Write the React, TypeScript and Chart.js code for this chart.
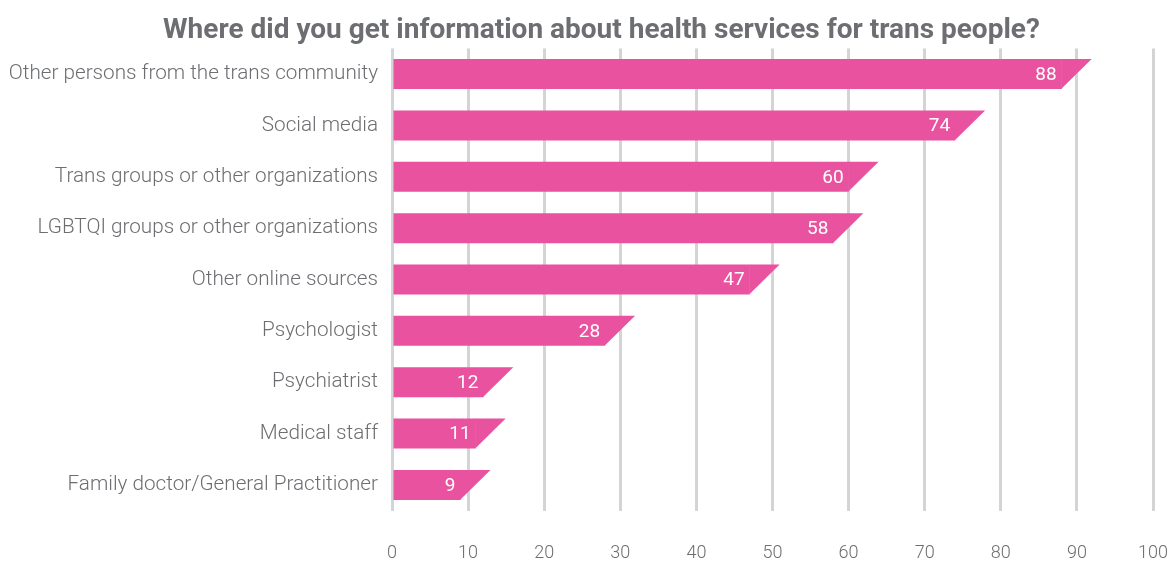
import React, { useEffect, useRef } from 'react';
import { Chart, registerables } from 'chart.js';

Chart.register(...registerables);

const chartTitle = 'Where did you get information about health services for trans people?';

const categories = [
  'Other persons from the trans community',
  'Social media',
  'Trans groups or other organizations',
  'LGBTQI groups or other organizations',
  'Other online sources',
  'Psychologist',
  'Psychiatrist',
  'Medical staff',
  'Family doctor/General Practitioner',
];

const values = [88, 74, 60, 58, 47, 28, 12, 11, 9];

const xMin = 0;
const xMax = 100;
const xStep = 10;

const BAR_COLOR = '#E9529F';
const TEXT_COLOR = '#6d6e71';
const GRID_COLOR = '#d3d4d5';
const FONT = 'Roboto, "DejaVu Sans", sans-serif';

const slantPlugin = {
  id: 'slantBars',
  afterDatasetsDraw(chart: any) {
    const ctx = chart.ctx as CanvasRenderingContext2D;
    const meta = chart.getDatasetMeta(0);
    ctx.save();
    meta.data.forEach((el: any, i: number) => {
      const { x, y, height } = el.getProps(['x', 'y', 'height'], true);
      const top = y - height / 2;
      const bot = y + height / 2;
      ctx.fillStyle = BAR_COLOR;
      ctx.beginPath();
      ctx.moveTo(x - 0.5, top);
      ctx.lineTo(x + height, top);
      ctx.lineTo(x - 0.5, bot);
      ctx.closePath();
      ctx.fill();
      ctx.fillStyle = '#ffffff';
      ctx.font = `400 19px ${FONT}`;
      ctx.textAlign = 'right';
      ctx.textBaseline = 'middle';
      ctx.fillText(String(values[i]), x - 5, y + 1);
    });
    ctx.restore();
  },
  afterDraw(chart: any) {
    const ctx = chart.ctx as CanvasRenderingContext2D;
    ctx.save();
    ctx.fillStyle = TEXT_COLOR;
    ctx.font = `bold 28px ${FONT}`;
    ctx.textAlign = 'center';
    ctx.textBaseline = 'alphabetic';
    ctx.fillText(chartTitle, chart.width / 2 + 15.5, 37.5);
    ctx.restore();
  },
};

export default function App() {
  const canvasRef = useRef<HTMLCanvasElement | null>(null);

  useEffect(() => {
    document.body.style.margin = '0';
    const canvas = canvasRef.current;
    if (!canvas) return;
    const chart = new Chart(canvas, {
      type: 'bar',
      data: {
        labels: categories,
        datasets: [
          {
            data: values,
            backgroundColor: BAR_COLOR,
            borderWidth: 0,
            barPercentage: 0.584,
            categoryPercentage: 1,
          },
        ],
      },
      options: {
        indexAxis: 'y',
        responsive: true,
        maintainAspectRatio: false,
        animation: false,
        layout: { padding: { left: 0, right: 19, top: 48.4, bottom: 0 } },
        plugins: {
          legend: { display: false },
          tooltip: { enabled: false },
          title: { display: false },
        },
        scales: {
          x: {
            min: xMin,
            max: xMax,
            grid: { color: GRID_COLOR, lineWidth: 3, drawTicks: false },
            border: { display: false },
            ticks: {
              stepSize: xStep,
              color: TEXT_COLOR,
              font: { family: FONT, size: 18, weight: '300', lineHeight: 1.2 },
              padding: 32,
            },
            afterFit(scale: any) {
              scale.height = 50.4;
              scale.paddingRight = 0;
              scale.paddingLeft = 0;
            },
          },
          y: {
            grid: { display: false, drawTicks: false },
            border: { display: false },
            ticks: {
              color: TEXT_COLOR,
              font: { family: FONT, size: 20.7, weight: '300' },
              padding: 14,
            },
            afterFit(scale: any) {
              scale.width = 392;
            },
          },
        },
      },
      plugins: [slantPlugin],
    });
    return () => chart.destroy();
  }, []);

  return (
    <div style={{ position: 'relative', width: '1172px', height: '561px' }}>
      <canvas ref={canvasRef} />
    </div>
  );
}
